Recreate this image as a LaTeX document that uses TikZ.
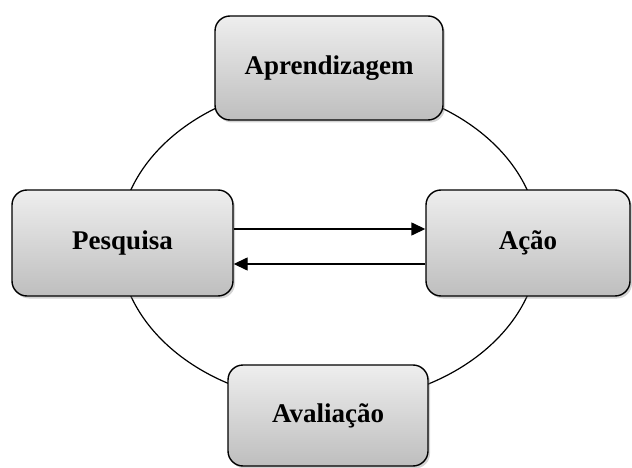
\documentclass[tikz,border=0pt]{standalone}
\usepackage{fontspec}
\setmainfont{Liberation Serif}
\newfontfamily\boxfont{Liberation Serif}[BoldFont={Liberation Serif Bold}]
\usetikzlibrary{shadows,arrows.meta}
\definecolor{boxtop}{RGB}{238,238,238}
\definecolor{boxbot}{RGB}{190,190,190}
\tikzset{
  stagebox/.style={draw=black, line width=1.4pt, rounded corners=15pt,
    top color=boxtop, bottom color=boxbot,
    drop shadow={shadow xshift=2pt, shadow yshift=-2.5pt, opacity=0.35},
    inner sep=0pt,
    font=\boxfont\fontsize{27}{31}\selectfont\bfseries},
  flow/.style={line width=1.4pt, -{Triangle[length=14pt,width=13pt]}}
}
\begin{document}
\begin{tikzpicture}[x=1pt,y=-1pt]
\useasboundingbox (0,0) rectangle (632,468);
\draw[line width=1.2pt] (329,243) ellipse [x radius=210pt, y radius=160pt];
\node[stagebox, minimum width=228pt, minimum height=104pt] (apr) at (329,68) {Aprendizagem};
\node[stagebox, minimum width=221pt, minimum height=106pt] (pes) at (122.5,243) {Pesquisa};
\node[stagebox, minimum width=204pt, minimum height=106pt] (aca) at (528,243) {Ação};
\node[stagebox, minimum width=200pt, minimum height=101pt] (ava) at (328,415.5) {Avaliação};
\draw[flow] (pes.east |- 0,229) -- (aca.west |- 0,229);
\draw[flow] (aca.west |- 0,264) -- (pes.east |- 0,264);
\end{tikzpicture}
\end{document}
